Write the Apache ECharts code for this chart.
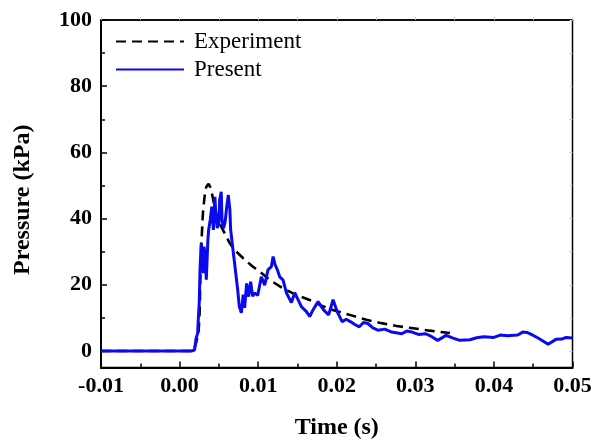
<!DOCTYPE html>
<html><head><meta charset="utf-8">
<script src="https://cdn.jsdelivr.net/npm/echarts@6/dist/echarts.min.js"></script>
<style>html,body{margin:0;padding:0;background:#fff}#c{width:594px;height:441px}</style>
</head><body><div id="c"></div>
<script>
var seriesNames = ['Experiment', 'Present'];
var xTicks = [-0.01, 0.00, 0.01, 0.02, 0.03, 0.04, 0.05];
var yTicks = [0, 20, 40, 60, 80, 100];
var experiment = [
  [-0.01, 0], [0.0018, 0], [0.0024, 5], [0.00255, 11.5], [0.00264, 21.5], [0.00276, 31.5],
  [0.00297, 41.7], [0.00318, 46.6], [0.0034, 49.6], [0.00369, 50.5], [0.0039, 49.5],
  [0.00411, 47.6], [0.00446, 43.6], [0.00488, 39.6], [0.00552, 36.6], [0.00637, 32.6],
  [0.0070, 30.5], [0.0081, 28.0], [0.0093, 25.5], [0.0102, 24.0], [0.01146, 21.5],
  [0.01316, 18.9], [0.01487, 16.9], [0.01656, 15.4], [0.01783, 13.9], [0.01949, 12.4],
  [0.02166, 10.9], [0.02378, 9.4], [0.02569, 8.4], [0.0276, 7.55], [0.02972, 6.86],
  [0.03185, 6.13], [0.0344, 5.4]
];
var present = [
  [-0.01, 0], [0.0015, 0], [0.0019, 0.3], [0.0021, 3.8], [0.0023, 5.3], [0.0024, 10.4],
  [0.0025, 14.5], [0.0026, 24.5], [0.00275, 32.5], [0.0029, 30.5], [0.0030, 23.5],
  [0.0031, 31.5], [0.0033, 28.5], [0.0034, 21.5], [0.0036, 33.5], [0.0037, 36.6],
  [0.0039, 39.6], [0.0041, 43.6], [0.0043, 36.6], [0.0045, 46.6], [0.0046, 41.6],
  [0.0048, 37.1], [0.0050, 38.6], [0.0051, 45.6], [0.0053, 48.1], [0.0054, 39.6],
  [0.0056, 37.1], [0.0058, 39.1], [0.0060, 43.6], [0.0062, 47.1], [0.0064, 42.6],
  [0.0065, 36.6], [0.0068, 30.5], [0.0070, 26.5], [0.0072, 22.4], [0.0074, 18.4],
  [0.0076, 13.4], [0.00786, 11.5], [0.00809, 17], [0.00828, 13], [0.00853, 20.4],
  [0.00879, 16.4], [0.00904, 20.9], [0.0093, 16.5], [0.00955, 17.5], [0.00994, 16.8],
  [0.0104, 22.4], [0.01083, 19.9], [0.01125, 24.5], [0.01168, 25.5], [0.0119, 28.5],
  [0.01216, 26], [0.01245, 24.5], [0.01274, 22.4], [0.01316, 21.5], [0.01359, 17.6],
  [0.01423, 14.6], [0.01465, 17.6], [0.01507, 15.5], [0.0155, 13.4], [0.01614, 11.9],
  [0.01656, 10.4], [0.01698, 12.4], [0.01762, 14.9], [0.01832, 12.4], [0.01897, 10.9],
  [0.01953, 15.5], [0.02005, 11.9], [0.0207, 8.8], [0.0212, 9.6], [0.02178, 8.8],
  [0.0223, 8.0], [0.02287, 7.3], [0.0234, 8.6], [0.02395, 8.3], [0.0246, 7.0],
  [0.02525, 6.25], [0.0261, 6.6], [0.02698, 5.7], [0.02828, 5.2], [0.0289, 6.0],
  [0.02958, 5.7], [0.0304, 5.0], [0.03132, 5.2], [0.0321, 4.3], [0.03284, 3.2],
  [0.03392, 4.7], [0.0348, 3.9], [0.03566, 3.2], [0.03694, 3.4], [0.0378, 4.0],
  [0.03869, 4.3], [0.03999, 4.1], [0.0408, 4.8], [0.04172, 4.6], [0.04302, 4.8],
  [0.04367, 5.7], [0.0442, 5.6], [0.04475, 5.0], [0.04562, 3.9], [0.0469, 2.0],
  [0.0479, 3.5], [0.04866, 3.6], [0.04917, 4.1], [0.05, 3.9]
];

var chart = echarts.init(document.getElementById('c'));
var font = 'Liberation Serif';
chart.setOption({
  animation: false,
  backgroundColor: '#fff',
  grid: [
    {left: 101, right: 21.5, top: 20, bottom: 73.5, show: true, borderColor: '#000', borderWidth: 1.5,
     containLabel: false, outerBoundsMode: 'none'},
    {left: 101, right: 21.5, top: 20, bottom: 90, containLabel: false, outerBoundsMode: 'none'}
  ],
  legend: {
    data: seriesNames, orient: 'vertical', left: 110, top: 25,
    itemWidth: 68, itemHeight: 14, itemGap: 5,
    itemStyle: {opacity: 0},
    textStyle: {fontFamily: font, fontSize: 23, color: '#000', padding: [0, 0, 0, 5]}
  },
  xAxis: [
    {gridIndex: 0, type: 'value', min: xTicks[0], max: xTicks[xTicks.length - 1], interval: 0.01,
     name: 'Time (s)', nameLocation: 'middle', nameGap: 48,
     nameTextStyle: {fontFamily: font, fontSize: 24, fontWeight: 'bold', color: '#000'},
     axisLine: {show: true, onZero: false, lineStyle: {color: '#000', width: 2}},
     axisTick: {show: true, inside: true, length: 6, lineStyle: {color: '#000', width: 1.5}},
     minorTick: {show: true, splitNumber: 2, length: 4, lineStyle: {color: '#000', width: 1.5}},
     splitLine: {show: false},
     axisLabel: {fontFamily: font, fontSize: 22, fontWeight: 'bold', color: '#000', margin: 8,
       formatter: function (v) { return v.toFixed(2); }}},
    {gridIndex: 0, type: 'value', position: 'top', min: -0.01, max: 0.05, interval: 0.005,
     axisLine: {show: true, onZero: false, lineStyle: {color: '#000', width: 1.5}},
     axisTick: {show: true, inside: false, length: 3, lineStyle: {color: '#ccc'}},
     axisLabel: {show: false}, splitLine: {show: false}},
    {gridIndex: 1, type: 'value', min: -0.01, max: 0.05, show: false}
  ],
  yAxis: [
    {gridIndex: 0, type: 'value', min: -5, max: 100,
     name: 'Pressure (kPa)', nameLocation: 'middle', nameGap: 66,
     nameTextStyle: {fontFamily: font, fontSize: 24, fontWeight: 'bold', color: '#000', padding: [0, 12, 0, 0]},
     axisLine: {show: true, onZero: false, lineStyle: {color: '#000', width: 2}},
     axisTick: {show: false}, axisLabel: {show: false}, splitLine: {show: false}},
    {gridIndex: 1, type: 'value', position: 'left', min: yTicks[0], max: yTicks[yTicks.length - 1], interval: 20,
     axisLine: {show: false, onZero: false},
     axisTick: {show: true, inside: true, length: 6, lineStyle: {color: '#000', width: 1.5}},
     minorTick: {show: true, splitNumber: 2, length: 4, lineStyle: {color: '#000', width: 1.5}},
     splitLine: {show: false},
     axisLabel: {fontFamily: font, fontSize: 22, fontWeight: 'bold', color: '#000', margin: 9}},
    {gridIndex: 1, type: 'value', position: 'right', min: 0, max: 100, interval: 10,
     axisLine: {show: false, onZero: false},
     axisTick: {show: true, inside: true, length: 3, lineStyle: {color: '#ccc'}},
     axisLabel: {show: false}, splitLine: {show: false}}
  ],
  series: [
    {name: seriesNames[0], type: 'line', xAxisIndex: 0, yAxisIndex: 0, data: experiment,
     symbol: 'none', z: 2,
     lineStyle: {color: '#000', width: 2.6, type: [10, 6]}, itemStyle: {color: '#000'}},
    {name: seriesNames[1], type: 'line', xAxisIndex: 0, yAxisIndex: 0, data: present,
     symbol: 'none', z: 3,
     lineStyle: {color: '#0a0aee', width: 3}, itemStyle: {color: '#0a0aee'}}
  ]
});
</script></body></html>
